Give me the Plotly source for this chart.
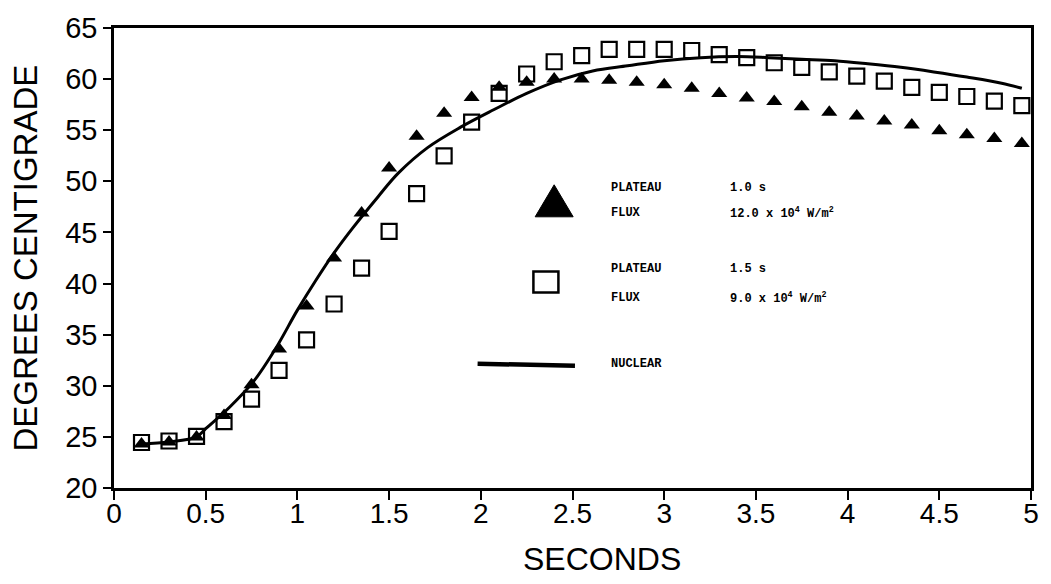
import plotly.graph_objects as go

# Sample times (s) for the two plateau runs
times = [0.15, 0.30, 0.45, 0.60, 0.75, 0.90, 1.05, 1.20, 1.35, 1.50, 1.65,
         1.80, 1.95, 2.10, 2.25, 2.40, 2.55, 2.70, 2.85, 3.00, 3.15, 3.30,
         3.45, 3.60, 3.75, 3.90, 4.05, 4.20, 4.35, 4.50, 4.65, 4.80, 4.95]

# Plateau 1.0 s, flux 12.0 x 10^4 W/m^2
plateau_10 = [24.3, 24.5, 25.0, 27.1, 30.1, 33.6, 37.8, 42.5, 46.9, 51.3, 54.4,
              56.65, 58.2, 59.2, 59.7, 60.0, 60.0, 59.9, 59.7, 59.45, 59.1, 58.6,
              58.15, 57.8, 57.3, 56.75, 56.4, 55.9, 55.5, 54.95, 54.55, 54.2, 53.7]

# Plateau 1.5 s, flux 9.0 x 10^4 W/m^2
plateau_15 = [24.45, 24.6, 25.05, 26.5, 28.7, 31.5, 34.5, 38.0, 41.5, 45.1, 48.8,
              52.5, 55.8, 58.6, 60.5, 61.7, 62.3, 62.9, 62.9, 62.9, 62.8, 62.4,
              62.1, 61.6, 61.15, 60.7, 60.3, 59.8, 59.2, 58.7, 58.3, 57.85, 57.4]

# Nuclear heating reference curve
nuclear_t = [0.15, 0.30, 0.45, 0.50, 0.63, 0.76, 0.88, 1.00, 1.10, 1.20, 1.30,
             1.44, 1.55, 1.71, 1.89, 2.07, 2.25, 2.43, 2.61, 2.80, 3.00, 3.20,
             3.40, 3.57, 3.75, 3.93, 4.11, 4.29, 4.47, 4.65, 4.84, 4.95]
nuclear_y = [24.3, 24.5, 25.0, 25.8, 27.9, 30.4, 33.6, 37.4, 40.3, 43.0, 45.4,
             48.5, 50.8, 53.3, 55.3, 57.0, 58.6, 59.9, 60.8, 61.3, 61.8, 62.1,
             62.2, 62.1, 61.95, 61.8, 61.5, 61.15, 60.7, 60.2, 59.6, 59.1]

x_ticks = [0, 0.5, 1, 1.5, 2, 2.5, 3, 3.5, 4, 4.5, 5]
x_tick_text = ["0", "0.5", "1", "1.5", "2", "2.5", "3", "3.5", "4", "4.5", "5"]
y_ticks = [20, 25, 30, 35, 40, 45, 50, 55, 60, 65]

SANS = "Liberation Sans, Arial, sans-serif"
MONO = "Liberation Mono, Courier New, monospace"

fig = go.Figure()

fig.add_trace(go.Scatter(
    x=nuclear_t, y=nuclear_y, mode="lines",
    line=dict(color="black", width=3, shape="spline", smoothing=1.0),
    showlegend=False, hoverinfo="skip"))

fig.add_trace(go.Scatter(
    x=times, y=plateau_15, mode="markers",
    marker=dict(symbol="square-open", size=15, color="black",
                line=dict(color="black", width=2.2)),
    showlegend=False))

fig.add_trace(go.Scatter(
    x=times, y=plateau_10, mode="markers",
    marker=dict(symbol="triangle-up", size=14, color="black",
                line=dict(color="black", width=0)),
    showlegend=False))

# Key glyphs, sized in pixels and anchored in paper space
fig.add_shape(type="path", xref="paper", yref="paper",
              xsizemode="pixel", ysizemode="pixel", xanchor=0.480, yanchor=0.620,
              path="M -19,-14 L 19,-14 L 0,18 Z",
              fillcolor="black", line=dict(color="black", width=1))
fig.add_shape(type="rect", xref="paper", yref="paper",
              xsizemode="pixel", ysizemode="pixel", xanchor=0.471, yanchor=0.448,
              x0=-12.5, x1=12.5, y0=-10.5, y1=10.5,
              fillcolor="rgba(0,0,0,0)", line=dict(color="black", width=2.5))
fig.add_shape(type="line", xref="paper", yref="paper",
              x0=0.3965, x1=0.5027, y0=0.270, y1=0.266,
              line=dict(color="black", width=4.5))

key_font = dict(family=MONO, size=12, color="black", weight="bold")
key_rows = [
    (0.652, "PLATEAU", "1.0 s"),
    (0.597, "FLUX", "12.0 x 10<sup>4</sup> W/m<sup>2</sup>"),
    (0.476, "PLATEAU", "1.5 s"),
    (0.414, "FLUX", "9.0 x 10<sup>4</sup> W/m<sup>2</sup>"),
    (0.270, "NUCLEAR", None),
]
for yp, left, right in key_rows:
    fig.add_annotation(x=0.5395, y=yp, xref="paper", yref="paper",
                       text=left, showarrow=False, xanchor="left", yanchor="middle",
                       font=key_font)
    if right:
        fig.add_annotation(x=0.6696, y=yp, xref="paper", yref="paper",
                           text=right, showarrow=False, xanchor="left", yanchor="middle",
                           font=key_font)

fig.add_annotation(x=-0.0975, y=0.5, xref="paper", yref="paper",
                   text="DEGREES CENTIGRADE", textangle=-90, showarrow=False,
                   xanchor="center", yanchor="middle",
                   font=dict(family=SANS, size=33, color="black"))
fig.add_annotation(x=0.532, y=-0.155, xref="paper", yref="paper",
                   text="SECONDS", showarrow=False,
                   xanchor="center", yanchor="middle",
                   font=dict(family=SANS, size=32, color="black"))

fig.update_layout(
    width=1051, height=584,
    margin=dict(l=114, r=14, t=22, b=96),
    paper_bgcolor="white", plot_bgcolor="white",
    xaxis=dict(range=[0, 5], tickvals=x_ticks, ticktext=x_tick_text,
               showgrid=False, zeroline=False, showline=True, mirror=True,
               linecolor="black", linewidth=2.5, ticks="outside", ticklen=9,
               tickwidth=2, tickcolor="black", ticklabelstandoff=-10,
               tickfont=dict(family=SANS, size=28, color="black")),
    yaxis=dict(range=[20, 65], tickvals=y_ticks,
               showgrid=False, zeroline=False, showline=True, mirror=True,
               linecolor="black", linewidth=2.5, ticks="outside", ticklen=8,
               tickwidth=2, tickcolor="black",
               tickfont=dict(family=SANS, size=29, color="black")),
    showlegend=False,
)

fig.write_html("out.html")
